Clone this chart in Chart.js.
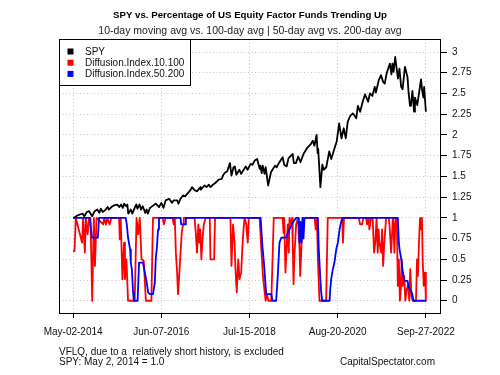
<!DOCTYPE html>
<html>
<head>
<meta charset="utf-8">
<script src="https://cdn.jsdelivr.net/npm/chart.js@4.4.1/dist/chart.umd.min.js"></script>
<style>
html, body { margin: 0; padding: 0; background: #fff; }
#wrap { width: 500px; height: 375px; }
</style>
</head>
<body>
<div id="wrap"><canvas id="factorChart" width="500" height="375"></canvas></div>
<script>
// axis labels
var tickDates = ['2014-05-02', '2016-06-07', '2018-07-15', '2020-08-20', '2022-09-27'];
var tickLabels = ['May-02-2014', 'Jun-07-2016', 'Jul-15-2018', 'Aug-20-2020', 'Sep-27-2022'];
var yTickVals = [0, 0.25, 0.5, 0.75, 1, 1.25, 1.5, 1.75, 2, 2.25, 2.5, 2.75, 3];
var yTickLabels = ['0', '0.25', '0.5', '0.75', '1', '1.25', '1.5', '1.75', '2', '2.25', '2.5', '2.75', '3'];

// SPY, indexed to 1.0 on May 2, 2014
var spyDates = ['2014-05-02','2014-05-20','2014-06-10','2014-06-30','2014-07-24','2014-08-07','2014-08-29','2014-09-18','2014-10-15','2014-11-05','2014-11-28','2014-12-16','2014-12-29',
  '2015-01-15','2015-02-02','2015-02-27','2015-03-10','2015-03-31','2015-04-24','2015-05-21','2015-06-08','2015-06-23','2015-07-08','2015-07-20','2015-08-07','2015-08-17','2015-08-25','2015-09-16','2015-09-29','2015-10-22','2015-11-03','2015-11-13','2015-12-01','2015-12-14','2015-12-29',
  '2016-01-20','2016-02-01','2016-02-11','2016-03-01','2016-03-31','2016-04-20','2016-05-19','2016-06-08','2016-06-27','2016-07-15','2016-08-15','2016-09-09','2016-09-22','2016-10-24','2016-11-04','2016-11-21','2016-12-13','2016-12-30',
  '2017-01-26','2017-02-14','2017-03-01','2017-03-27','2017-04-13','2017-05-15','2017-05-17','2017-06-19','2017-07-06','2017-07-26','2017-08-10','2017-08-30','2017-09-20','2017-10-20','2017-11-15','2017-11-30','2017-12-18',
  '2018-01-02','2018-01-26','2018-02-08','2018-02-26','2018-03-09','2018-03-23','2018-04-18','2018-05-03','2018-06-12','2018-06-28','2018-07-25','2018-08-10','2018-08-29','2018-09-20','2018-10-11','2018-10-17','2018-10-29','2018-11-07','2018-11-23','2018-12-03','2018-12-24',
  '2019-01-18','2019-02-22','2019-03-08','2019-04-01','2019-04-30','2019-05-13','2019-06-03','2019-06-20','2019-07-26','2019-08-05','2019-08-23','2019-09-12','2019-10-02','2019-10-28','2019-11-27','2019-12-31',
  '2020-01-17','2020-01-31','2020-02-19','2020-02-28','2020-03-04','2020-03-23','2020-04-09','2020-04-21','2020-05-13','2020-06-08','2020-06-26','2020-07-22','2020-08-12','2020-09-02','2020-09-23','2020-10-12','2020-10-30','2020-11-16','2020-12-08','2020-12-31',
  '2021-01-29','2021-02-12','2021-03-04','2021-03-26','2021-04-16','2021-05-12','2021-05-28','2021-06-18','2021-07-09','2021-07-19','2021-08-13','2021-09-02','2021-09-20','2021-10-04','2021-10-22','2021-11-18','2021-12-01','2021-12-10','2021-12-20',
  '2022-01-03','2022-01-27','2022-02-09','2022-02-24','2022-03-08','2022-03-29','2022-04-20','2022-04-29','2022-05-12','2022-05-20','2022-06-02','2022-06-16','2022-06-24','2022-07-14','2022-08-16','2022-08-26','2022-09-06','2022-09-12','2022-09-27'];
var spyVals = [1.00,1.01,1.03,1.04,1.05,1.02,1.07,1.08,1.02,1.08,1.10,1.06,1.11,
  1.07,1.09,1.13,1.10,1.13,1.15,1.16,1.13,1.16,1.12,1.17,1.14,1.16,1.05,1.10,1.05,1.13,1.16,1.11,1.16,1.10,1.14,
  1.06,1.10,1.05,1.12,1.15,1.17,1.13,1.18,1.12,1.21,1.23,1.18,1.21,1.21,1.17,1.23,1.27,1.26,
  1.30,1.33,1.37,1.33,1.32,1.37,1.34,1.39,1.37,1.40,1.37,1.40,1.42,1.46,1.47,1.52,1.55,
  1.56,1.66,1.51,1.61,1.62,1.52,1.58,1.53,1.62,1.58,1.65,1.64,1.69,1.71,1.59,1.63,1.54,1.63,1.53,1.61,1.39,
  1.55,1.63,1.61,1.67,1.73,1.64,1.62,1.72,1.77,1.66,1.66,1.74,1.67,1.77,1.84,1.89,
  1.93,1.87,2.00,1.78,1.83,1.37,1.64,1.58,1.61,1.80,1.71,1.83,1.92,2.14,1.96,2.08,1.96,2.16,2.23,2.26,
  2.20,2.35,2.28,2.40,2.49,2.40,2.50,2.47,2.58,2.51,2.66,2.72,2.64,2.62,2.75,2.86,2.73,2.86,2.76,
  2.94,2.68,2.80,2.58,2.55,2.82,2.70,2.52,2.35,2.36,2.53,2.28,2.45,2.36,2.67,2.53,2.45,2.58,2.28];

// share of funds with 10-day avg above 100-day avg
var fastDates = ['2014-05-02','2014-05-14','2014-05-25','2014-07-19','2014-07-28','2014-08-12','2014-08-21','2014-09-05','2014-09-19','2014-09-30','2014-10-15','2014-10-29','2014-11-08','2014-11-22',
  '2015-01-19','2015-01-27','2015-02-12','2015-02-23','2015-03-16','2015-03-30','2015-06-06','2015-06-12','2015-06-20','2015-07-05','2015-07-19','2015-07-27','2015-08-09','2015-08-23','2015-10-20','2015-11-05','2015-11-19','2015-12-03','2015-12-18',
  '2016-01-07','2016-01-25','2016-03-13','2016-03-27','2016-06-20','2016-06-29','2016-07-16','2016-09-13','2016-09-24','2016-10-03','2016-10-12','2016-10-23','2016-10-31','2016-11-10','2016-11-22','2016-12-03','2016-12-14','2016-12-20',
  '2017-03-24','2017-04-03','2017-04-14','2017-04-26','2017-05-05','2017-05-13','2017-05-22','2017-05-30','2017-06-12','2017-06-28','2017-08-03','2017-08-09','2017-09-10','2017-09-18',
  '2018-01-30','2018-02-08','2018-02-22','2018-03-07','2018-03-15','2018-03-26','2018-04-08','2018-04-19','2018-05-04','2018-05-13','2018-05-24','2018-06-02','2018-06-17','2018-06-30','2018-07-09',
  '2018-10-11','2018-10-26','2018-11-09','2018-11-24','2018-12-02','2018-12-14','2018-12-26','2019-01-21','2019-02-11',
  '2019-04-30','2019-05-07','2019-05-13','2019-05-24','2019-06-05','2019-06-13','2019-06-22','2019-06-28','2019-07-12','2019-07-21','2019-07-26','2019-08-02','2019-08-11','2019-08-25','2019-09-09','2019-09-23','2019-09-29','2019-10-08','2019-10-17','2019-10-22',
  '2020-02-02','2020-02-11','2020-02-22','2020-03-01','2020-03-15','2020-05-12','2020-05-26','2020-09-29','2020-10-05','2020-10-15',
  '2021-02-21','2021-03-03','2021-03-20','2021-04-02','2021-04-25','2021-05-03','2021-05-17','2021-05-23','2021-06-07','2021-06-21','2021-07-03','2021-07-14','2021-07-25','2021-08-04','2021-08-12','2021-08-18','2021-09-03','2021-09-11','2021-09-20','2021-09-30','2021-10-16','2021-11-08','2021-11-14','2021-11-29','2021-12-13','2021-12-19','2021-12-27',
  '2022-01-05','2022-01-17','2022-01-26','2022-02-04','2022-02-13','2022-02-21','2022-03-01','2022-03-09','2022-03-23','2022-04-01','2022-04-13','2022-04-25','2022-05-06','2022-05-14','2022-05-25','2022-06-04','2022-07-03','2022-07-12','2022-07-20','2022-07-29','2022-08-07','2022-08-16','2022-08-24','2022-08-30','2022-09-08','2022-09-14','2022-09-20','2022-09-27'];
var fastVals = [0.6,0.6,1,0.7,1,0.58,1,0.8,1,1,0,1,0.42,1,
  0.92,1,0.92,1,0.92,1,1,0.74,1,0.26,0.7,0.26,0.5,0,0,1,0.8,1,0.5,
  0.48,0,0,1,1,0.92,1,1,0.92,1,0.58,0.34,0.08,0.3,0.58,0.83,0.92,1,
  1,0.83,0.58,0.92,0.7,0.86,0.5,0.7,0.92,1,1,0.5,0.5,1,
  1,0.42,0.92,0.7,0.38,0.1,0.5,0.26,0.34,0.62,0.86,1,0.92,0.7,1,
  1,0.62,0.3,0.1,0,0.08,0,0,1,
  1,0.82,1,0.34,0.7,0.92,0.58,1,0.92,1,0.7,0.2,0.58,0.92,1,0.66,0.3,0.58,0.92,1,
  1,0.86,1,0.5,0,0,1,1,0.7,1,
  1,0.92,0.92,1,1,0.92,1,0.86,1,1,0.58,0.7,1,0.58,0.86,0.7,0.58,0.86,0.42,0.7,1,1,0.92,0.58,1,0.92,0.58,
  1,1,0.18,0.5,0,0.14,0.5,0.18,0.3,0,0.14,0.18,0,0.38,0.06,0,0,0.5,0.3,0.7,1,0.86,1,0.5,0.18,0.34,0.34,0];

// share of funds with 50-day avg above 200-day avg
var slowDates = ['2014-05-02','2014-09-19','2014-09-29','2014-10-12','2014-12-03','2014-12-14',
  '2015-08-03','2015-08-12','2015-08-23','2015-09-10','2015-09-16','2015-09-25','2015-10-06','2015-10-12','2015-11-14','2015-11-19','2015-11-27','2015-12-31',
  '2016-01-16','2016-01-30','2016-02-14','2016-02-28','2016-03-27','2016-04-12','2016-04-20','2016-05-01','2016-05-10','2016-05-18','2016-11-22','2016-11-27','2016-12-31','2017-01-07',
  '2018-10-20','2018-11-04','2018-11-15','2018-11-24','2018-12-02','2018-12-08','2019-01-21','2019-01-30','2019-03-04','2019-03-18','2019-04-02','2019-04-17','2019-05-30','2019-06-13','2019-06-28','2019-07-12','2019-07-26','2019-08-25','2019-09-17','2019-09-23','2019-10-02','2019-10-11','2019-10-19','2019-10-28','2019-11-06',
  '2020-03-01','2020-03-09','2020-03-21','2020-03-30','2020-04-08','2020-06-11','2020-06-17','2020-06-25','2020-07-09','2020-07-23','2020-08-08','2020-08-22','2020-09-06','2020-09-21','2020-10-05',
  '2022-01-26','2022-02-04','2022-02-10','2022-02-25','2022-03-09','2022-03-23','2022-04-21','2022-04-30','2022-05-20','2022-06-01','2022-06-10','2022-09-27'];
var slowVals = [1,1,0.94,0.76,0.76,1,
  1,0.92,0.76,0.62,0.46,0.38,0.1,0,0,0.18,0.46,0.46,
  0.34,0.24,0.1,0.08,0.08,0.22,0.5,0.66,0.86,1,1,0.92,0.92,1,
  1,0.66,0.5,0.34,0.18,0.08,0.08,0,0,0.3,0.7,0.76,0.76,0.82,0.86,0.9,0.94,1,1,0.7,0.95,0.7,1,0.75,1,
  1,0.62,0.3,0.1,0,0,0.14,0.26,0.38,0.46,0.62,0.7,0.86,0.96,1,
  1,0.7,0.62,0.5,0.36,0.24,0.24,0.16,0.12,0.08,0,0];

var startDate = '2014-05-02';
var fontFamily = '"Liberation Sans", Arial, sans-serif';
var gridGray = '#c4c4c4';

function dayNum(s) {
    return (Date.parse(s) - Date.parse(startDate)) / 86400000;
}

function toPoints(dates, vals) {
    return dates.map(function (d, i) {
        return { x: dayNum(d), y: vals[i] };
    });
}

// titles, footnotes, box and legend (drawn the way the R plot has them)
var decorations = {
    id: 'decorations',
    afterDatasetsDraw: function (chart) {
        var ctx = chart.ctx, a = chart.chartArea;
        ctx.save();
        ctx.strokeStyle = '#000';
        ctx.lineWidth = 1;
        ctx.strokeRect(a.left + 0.5, a.top + 0.5, a.right - a.left, a.bottom - a.top);
        ctx.restore();
    },
    afterDraw: function (chart) {
        var ctx = chart.ctx, a = chart.chartArea;
        ctx.save();
        ctx.fillStyle = '#000';
        ctx.textAlign = 'center';
        ctx.textBaseline = 'middle';
        ctx.font = 'bold 9.7px ' + fontFamily;
        ctx.fillText('SPY vs. Percentage of US Equity Factor Funds Trending Up', 250, 15.7);
        ctx.font = '10.5px ' + fontFamily;
        ctx.fillStyle = '#222';
        ctx.fillText('10-day moving avg vs. 100-day avg | 50-day avg vs. 200-day avg', 250, 31);

        // legend box
        ctx.fillStyle = '#fff';
        ctx.fillRect(a.left + 0.5, a.top + 0.5, 131, 46);
        ctx.strokeStyle = '#000';
        ctx.lineWidth = 1;
        ctx.strokeRect(a.left + 0.5, a.top + 0.5, 131, 46);
        var items = [['SPY', '#000'], ['Diffusion.Index.10.100', '#ff0000'], ['Diffusion.Index.50.200', '#0000ff']];
        ctx.font = '10px ' + fontFamily;
        ctx.textAlign = 'left';
        items.forEach(function (it, i) {
            var y = a.top + 12.5 + i * 11.2;
            ctx.fillStyle = it[1];
            ctx.fillRect(a.left + 8.5, y - 3, 6, 6);
            ctx.fillStyle = '#111';
            ctx.fillText(it[0], a.left + 26, y + 0.5);
        });

        // footnotes
        ctx.fillStyle = '#111';
        ctx.fillText('VFLQ, due to a  relatively short history, is excluded', 59, 352);
        ctx.fillText('SPY: May 2, 2014 = 1.0', 59, 362.5);
        ctx.textAlign = 'right';
        ctx.fillText('CapitalSpectator.com', 435, 362.5);
        ctx.restore();
    }
};

var ctx = document.getElementById('factorChart');

var myChart = new Chart(ctx, {
    type: 'line',
    data: {
        datasets: [{
            label: 'SPY',
            data: toPoints(spyDates, spyVals),
            borderColor: '#000',
            borderWidth: 1.8,
            order: 0
        }, {
            label: 'Diffusion.Index.10.100',
            data: toPoints(fastDates, fastVals),
            borderColor: '#ff0000',
            borderWidth: 1.8,
            order: 2
        }, {
            label: 'Diffusion.Index.50.200',
            data: toPoints(slowDates, slowVals),
            borderColor: '#0000ff',
            borderWidth: 1.8,
            order: 1
        }]
    },
    options: {
        responsive: false,
        animation: false,
        devicePixelRatio: 1,
        elements: {
            point: { radius: 0 },
            line: { tension: 0, borderJoinStyle: 'round' }
        },
        layout: {
            padding: { left: 59, top: 39, right: 0, bottom: 0 }
        },
        plugins: {
            legend: { display: false },
            tooltip: { enabled: false },
            title: { display: false }
        },
        scales: {
            x: {
                type: 'linear',
                position: 'bottom',
                min: -123,
                max: 3193,
                afterBuildTicks: function (axis) {
                    axis.ticks = tickDates.map(function (d) { return { value: dayNum(d) }; });
                },
                afterFit: function (axis) { axis.height = 62; },
                ticks: {
                    autoSkip: false,
                    maxRotation: 0,
                    padding: 8,
                    color: '#111',
                    font: { size: 10, family: fontFamily },
                    callback: function (value, index) { return tickLabels[index]; }
                },
                grid: {
                    color: gridGray,
                    lineWidth: 1,
                    tickColor: '#000',
                    tickLength: 5,
                    tickBorderDash: []
                },
                border: { display: false, dash: [1, 2.5] }
            },
            y: {
                type: 'linear',
                position: 'right',
                min: -0.148,
                max: 3.157,
                afterBuildTicks: function (axis) {
                    axis.ticks = yTickVals.map(function (v) { return { value: v }; });
                },
                afterFit: function (axis) { axis.width = 60; },
                ticks: {
                    padding: 5,
                    color: '#111',
                    font: { size: 10, family: fontFamily },
                    callback: function (value, index) { return yTickLabels[index]; }
                },
                grid: {
                    color: gridGray,
                    lineWidth: 1,
                    tickColor: '#000',
                    tickLength: 7,
                    tickBorderDash: []
                },
                border: { display: false, dash: [1, 2.5] }
            }
        }
    },
    plugins: [decorations]
});
</script>
</body>
</html>
